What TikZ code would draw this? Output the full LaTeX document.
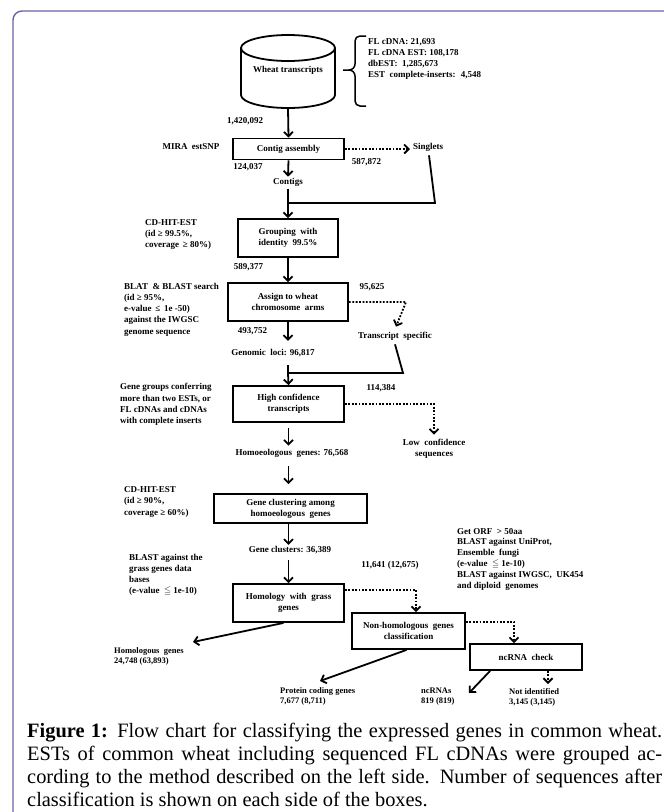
\documentclass[tikz,border=0pt]{standalone}
\usepackage{fontspec}
\usepackage{amssymb}
\setmainfont{Liberation Serif}
\usetikzlibrary{arrows.meta,calc}
\definecolor{framec}{RGB}{104,99,168}
\begin{document}
\begin{tikzpicture}[x=1pt,y=-1pt,
  lbl/.style={font=\bfseries\fontsize{9}{11.2}\selectfont, inner sep=0pt},
  side/.style={lbl, align=left, anchor=west},
  small/.style={font=\bfseries\fontsize{8.5}{10}\selectfont, inner sep=0pt, align=left, anchor=west},
  box/.style={draw, line width=1.8pt, align=center, inner sep=0pt, font=\bfseries\fontsize{9}{11.2}\selectfont},
  arr/.style={line width=1.8pt, -{Straight Barb[length=4.5pt,width=9pt,line width=1.8pt]}},
  darr/.style={line width=1.8pt, dash pattern=on 1.8pt off 1.6pt, -{Straight Barb[length=4.5pt,width=9pt,line width=1.8pt]}},
  ln/.style={line width=1.8pt},
  captxt/.style={font=\fontsize{20.4}{23}\selectfont, inner sep=0pt, anchor=base west}
]
\useasboundingbox (0,0) rectangle (664,812);
% frame
\draw[framec, line width=1.4pt, rounded corners=9pt] (13,812) -- (13,11) -- (664,11);

% cylinder
\draw[line width=1.8pt] (241,48) -- (241,95) arc[start angle=180, end angle=0, x radius=47, y radius=13] -- (335,48);
\draw[line width=1.8pt] (288,48) ellipse[x radius=47, y radius=13];
\node[lbl] (wt) at (288,70) {Wheat transcripts};
\coordinate (wtb) at (288,108);

% brace
\draw[line width=1.5pt] (366,36) -- (360,36) to[out=180,in=90] (355,41) -- (355,64) to[out=270,in=0] (349,70) -- (343,70)
  (349,70) to[out=0,in=90] (355,76) -- (355,101) to[out=270,in=180] (360,106) -- (366,106);
\node[side] (brtxt) at (368,59) {FL cDNA: 21,693\\FL cDNA EST: 108,178\\dbEST: \ 1,285,673\\EST \ complete-inserts: \ 4,548};

% boxes
\node[box, minimum width=111pt, minimum height=21pt] (contig) at (288.5,149) {Contig assembly};
\node[box, minimum width=100pt, minimum height=38pt] (group) at (288,238) {Grouping \ with\\identity \ 99.5\%};
\node[box, minimum width=120pt, minimum height=38pt] (assign) at (288,302) {Assign to wheat\\chromosome \ arms};
\node[box, minimum width=111pt, minimum height=36pt] (highc) at (288.5,404) {High confidence\\transcripts};
\node[box, minimum width=153pt, minimum height=29pt] (clust) at (290.5,508.5) {Gene clustering among\\homoeologous \ genes};
\node[box, minimum width=111pt, minimum height=38pt] (homol) at (288.5,603) {Homology \ with \ grass\\genes};
\node[box, minimum width=113pt, minimum height=36pt] (nonhom) at (408.5,631) {Non-homologous \ genes\\classification};
\node[box, minimum width=112pt, minimum height=26pt] (ncrna) at (526,657) {ncRNA \ check};

% labels
\node[lbl] (n1) at (245,121) {1,420,092};
\node[lbl] (mira) at (191,147) {MIRA \ estSNP};
\node[lbl] (n2) at (366.5,162) {587,872};
\node[lbl] (n3) at (248,167) {124,037};
\node[lbl] (contigs) at (288,182) {Contigs};
\node[lbl, anchor=west] (singlets) at (413,147) {Singlets};
\node[side] (m1) at (145,234.5) {CD-HIT-EST\\(id ≥ 99.5\%,\\coverage \,≥ 80\%)};
\node[lbl] (n4) at (248.5,267) {589,377};
\node[side] (m2) at (124,309.5) {BLAT \ \& BLAST search\\(id ≥ 95\%,\\e-value \,≤ \,1e -50)\\against the IWGSC\\genome sequence};
\node[lbl] (n5) at (372,287) {95,625};
\node[lbl] (tspec) at (395,336) {Transcript \ specific};
\node[lbl] (n6) at (252.5,331) {493,752};
\node[lbl] (gloci) at (273,353) {Genomic \ loci: 96,817};
\node[side] (m3) at (120,404.5) {Gene groups conferring\\more than two ESTs, or\\FL cDNAs and cDNAs\\with complete inserts};
\node[lbl] (n7) at (381,388) {114,384};
\node[lbl, align=center] (lowc) at (434,448.5) {Low \ confidence\\sequences};
\node[lbl] (homoeo) at (292,453) {Homoeologous \ genes: 76,568};
\node[side] (m4) at (124,502) {CD-HIT-EST\\(id ≥ 90\%,\\coverage ≥ 60\%)};
\node[lbl] (gclus) at (290,550) {Gene clusters: 36,389};
\node[side] (m5) at (129,575) {BLAST against the\\grass genes data\\bases\\(e-value \ $\leqq$ 1e-10)};
\node[lbl] (n8) at (390,565) {11,641 (12,675)};
\node[side, font=\bfseries\fontsize{9}{10.8}\selectfont] (m6) at (457,559) {Get ORF \ > 50aa\\BLAST against UniProt,\\Ensemble \ fungi\\(e-value \ $\leqq$ 1e-10)\\BLAST against IWGSC, \ UK454\\and diploid \ genomes};
\node[small] (homog) at (114,656) {Homologous \ genes\\24,748 (63,893)};
\node[small] (prot) at (280,696) {Protein coding genes\\7,677 (8,711)};
\node[small] (ncr) at (421,697) {ncRNAs\\819 (819)};
\node[small] (notid) at (509,697) {Not identified\\3,145 (3,145)};

% connectors
\coordinate (j1) at (288,203);
\coordinate (s1) at (435,203);
\coordinate (j2) at (288,373);
\coordinate (t1) at (403,373);
\coordinate (d1) at (406,302);
\coordinate (d2) at (434,404);
\coordinate (d3) at (416,590);
\coordinate (d4) at (514,622);
\coordinate (hgt) at (193,642);
\coordinate (pgt) at (320,681);
\coordinate (ngt) at (469,693);
\coordinate (xgt) at (548,684);

\draw[arr] (wtb) -- (contig.north);
\draw[arr] (contig.south) -- ($(contigs.north)+(0,-1)$);
\draw[darr] (contig.east) -- ($(singlets.west)+(-3,2)$);
\draw[ln] ($(singlets.south west)+(16,4)$) -- (s1) -- (j1);
\draw[arr] ($(contigs.south)+(0,3)$) -- (group.north);
\draw[arr] (group.south) -- (assign.north);
\draw[darr] (assign.east) -- (d1) -- ($(tspec.north)+(1,-5)$);
\draw[arr] (assign.south) -- ($(assign.south |- gloci.north)+(0,-8)$);
\draw[ln] ($(gloci.south -| assign.south)+(0,8)$) -- (j2);
\draw[ln] ($(tspec.south)+(0,4)$) -- (t1) -- (j2);
\draw[arr] (j2) -- (highc.north);
\draw[darr] (highc.east) -- (d2) -- ($(lowc.north -| d2)+(0,-4)$);
\draw[arr] ($(highc.south)+(0,5)$) -- ($(homoeo.north -| highc.south)+(0,-3)$);
\draw[arr] ($(homoeo.south -| highc.south)+(0,9)$) -- ($(clust.north -| highc.south)+(0,-9)$);
\draw[arr] (clust.south -| highc.south) -- ($(gclus.north -| highc.south)+(0,-1)$);
\draw[arr] ($(gclus.south -| highc.south)+(0,6)$) -- (homol.north);
\draw[darr] ($(homol.east)+(0,-13)$) -- (d3) -- (nonhom.north -| d3);
\draw[darr] ($(nonhom.east)+(0,-9)$) -- (d4) -- (ncrna.north -| d4);
\draw[arr] ($(homol.south)+(-5,0)$) -- (hgt);
\draw[arr] ($(nonhom.south)+(-2,0)$) -- (pgt);
\draw[arr] ($(ncrna.south west)+(21,0)$) -- (ngt);
\draw[darr, line width=1.5pt] (ncrna.south -| xgt) -- (xgt);

% caption
\node[captxt] (c1) at (27,737) {\makebox[635pt][s]{\textbf{Figure 1:} Flow chart for classifying the expressed genes in common wheat.}};
\node[captxt] (c2) at (27,760) {\makebox[635pt][s]{ESTs of common wheat including sequenced FL cDNAs were grouped ac-}};
\node[captxt] (c3) at (27,783) {\makebox[635pt][s]{cording to the method described on the left side. Number of sequences after}};
\node[captxt] (c4) at (27,806) {classification is shown on each side of the boxes.};
\end{tikzpicture}
\end{document}
